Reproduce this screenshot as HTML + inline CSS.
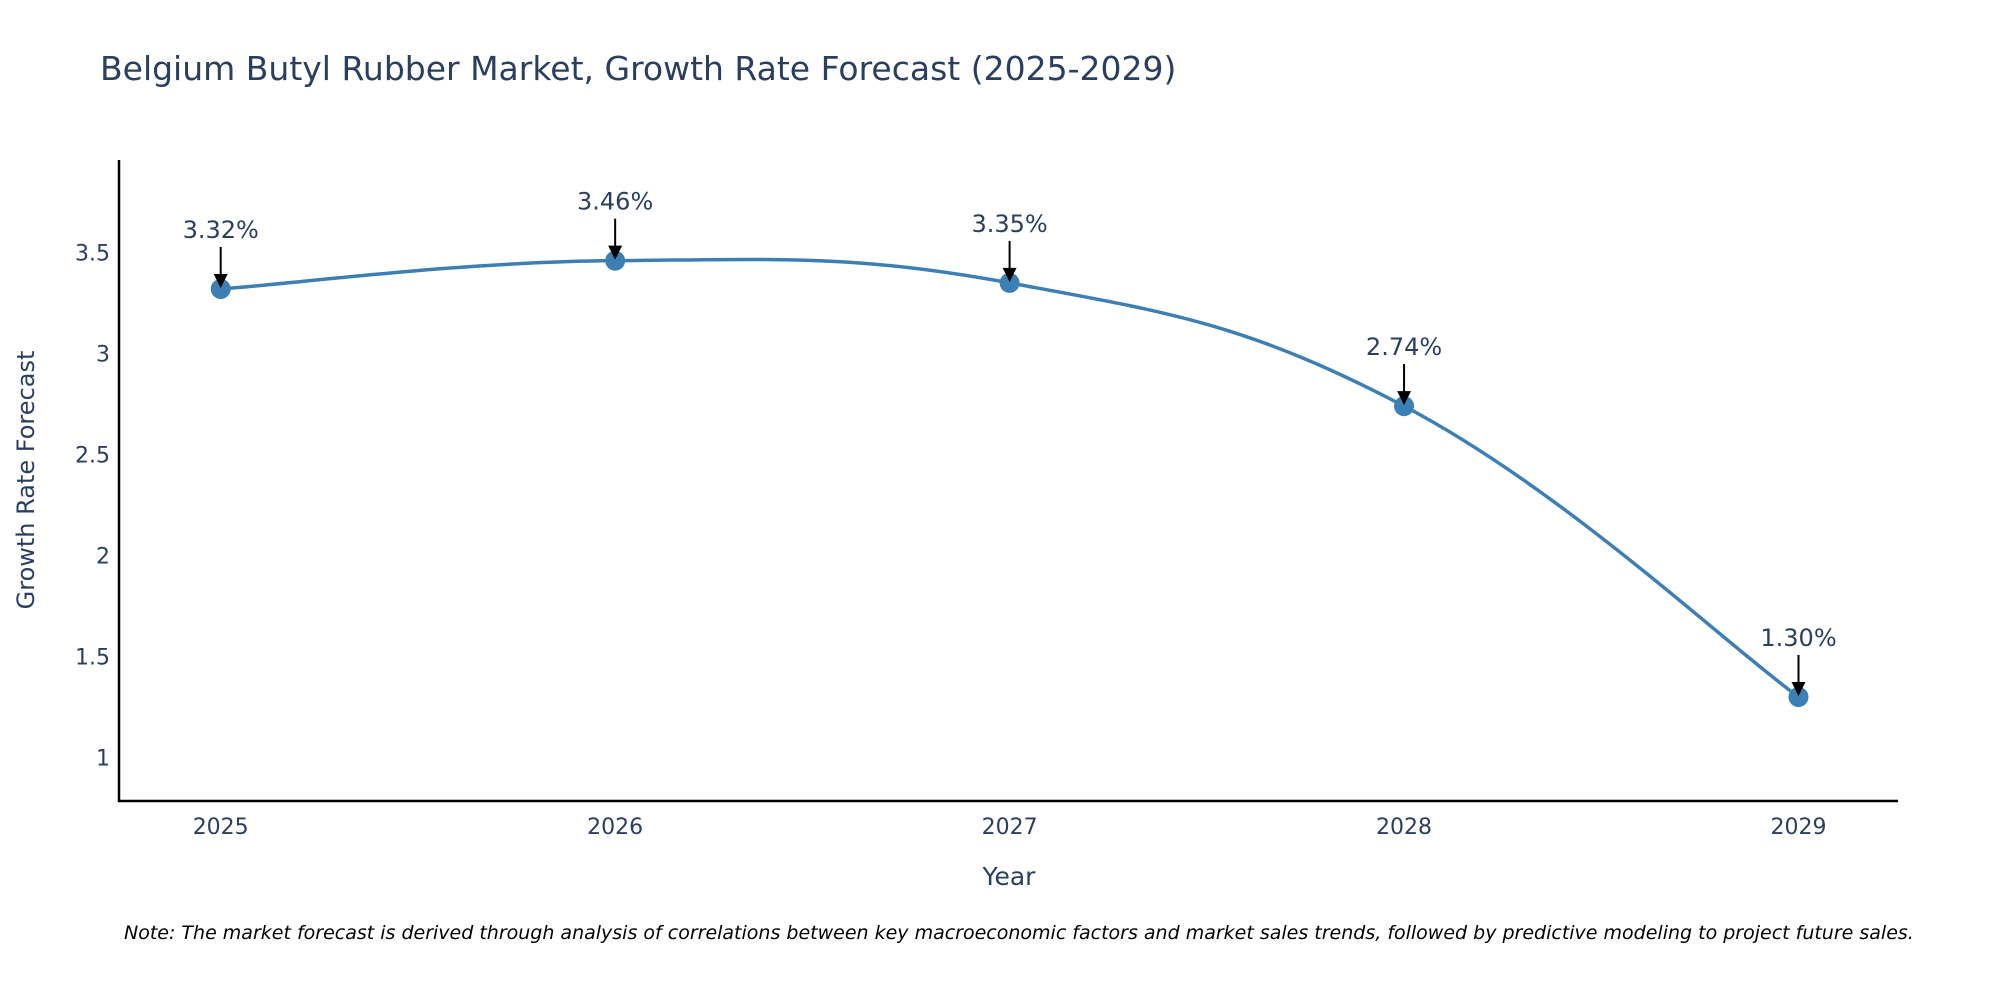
<!DOCTYPE html>
<html><head><meta charset="utf-8"><style>
html,body{margin:0;padding:0;background:#fff;}
svg{display:block;font-family:"DejaVu Sans","Liberation Sans",sans-serif;}
</style></head><body>
<svg id="chart" width="2000" height="1000" viewBox="0 0 2000 1000">
<text x="100" y="80" font-size="33" fill="#2a3f5f">Belgium Butyl Rubber Market, Growth Rate Forecast (2025-2029)</text>
<g id="yticks"></g>
<g id="xticks"></g>
<line x1="119" y1="160" x2="119" y2="802" stroke="#000" stroke-width="2.5"/>
<line x1="118" y1="801" x2="1898" y2="801" stroke="#000" stroke-width="2.5"/>
<path id="line" fill="none" stroke="#3b7fb4" stroke-width="3.5"/>
<g id="points"></g>
<g id="annots"></g>
<text x="1009" y="885" font-size="25" fill="#2a3f5f" text-anchor="middle">Year</text>
<text transform="translate(34,480) rotate(-90)" font-size="24" fill="#2a3f5f" text-anchor="middle">Growth Rate Forecast</text>
<text x="124" y="939" font-size="19" font-style="italic" fill="#000">Note: The market forecast is derived through analysis of correlations between key macroeconomic factors and market sales trends, followed by predictive modeling to project future sales.</text>
</svg>
<script>
const years = [2025, 2026, 2027, 2028, 2029];
const values = [3.32, 3.46, 3.35, 2.74, 1.30];
const labels = ["3.32%", "3.46%", "3.35%", "2.74%", "1.30%"];
const yTicks = [1, 1.5, 2, 2.5, 3, 3.5];
const yTickLabels = ["1", "1.5", "2", "2.5", "3", "3.5"];

const NS = "http://www.w3.org/2000/svg";
function xs(v){ return 220.7 + (v - 2025) * 394.45; }
function ys(v){ return 757.6 - (v - 1) * 202; }
function mk(tag, attrs, parent){ const e = document.createElementNS(NS, tag); for (const k in attrs) e.setAttribute(k, attrs[k]); parent.appendChild(e); return e; }

const yg = document.getElementById('yticks');
yTicks.forEach((t, i) => {
  const el = mk('text', {x: 110, y: ys(t) + 8, 'font-size': 22, fill: '#2a3f5f', 'text-anchor': 'end'}, yg);
  el.textContent = yTickLabels[i];
  
  
});
const xg = document.getElementById('xticks');
years.forEach(y => {
  const el = mk('text', {x: xs(y), y: 834, 'font-size': 22, fill: '#2a3f5f', 'text-anchor': 'middle'}, xg);
  el.textContent = String(y);
  
  
});

const pts = years.map((y, i) => [xs(y), ys(values[i])]);
let d = 'M' + pts[0][0] + ',' + pts[0][1];
const tension = 0.2;
for (let i = 0; i < pts.length - 1; i++) {
  const p0 = pts[Math.max(0, i - 1)], p1 = pts[i], p2 = pts[i + 1], p3 = pts[Math.min(pts.length - 1, i + 2)];
  const c1 = [p1[0] + (p2[0] - p0[0]) * tension, p1[1] + (p2[1] - p0[1]) * tension];
  const c2 = [p2[0] - (p3[0] - p1[0]) * tension, p2[1] - (p3[1] - p1[1]) * tension];
  d += ' C' + c1.join(',') + ' ' + c2.join(',') + ' ' + p2.join(',');
}
document.getElementById('line').setAttribute('d', d);

const pg = document.getElementById('points');
const ag = document.getElementById('annots');
pts.forEach((p, i) => {
  const c = mk('circle', {cx: p[0], cy: p[1], r: 10, fill: '#3b7fb4'}, pg);
  
  
  const ln = mk('line', {x1: p[0], y1: p[1] - 42, x2: p[0], y2: p[1] - 12, stroke: '#000', 'stroke-width': 2}, ag);
  
  
  const hd = mk('path', {d: `M${p[0]-7},${p[1]-15} L${p[0]+7},${p[1]-15} L${p[0]},${p[1]-1} Z`, fill: '#000'}, ag);
  
  
  const t = mk('text', {x: p[0], y: p[1] - 51, 'font-size': 24, fill: '#2a3f5f', 'text-anchor': 'middle'}, ag);
  t.textContent = labels[i];
  
  
});
</script>
</body></html>
